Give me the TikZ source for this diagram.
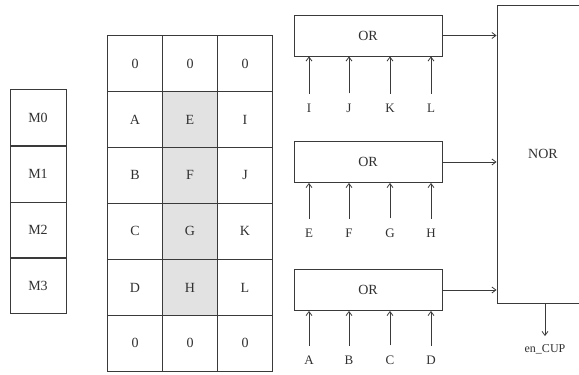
\documentclass[tikz,border=0pt]{standalone}
\usepackage{fontspec}
\setmainfont{Liberation Serif}
\usetikzlibrary{arrows.meta}
\definecolor{ln}{HTML}{3A3A3A}
\definecolor{tx}{HTML}{303030}
\definecolor{shade}{HTML}{E2E2E2}
\begin{document}
\begin{tikzpicture}[x=1pt,y=-1pt,
  every node/.style={text=tx,font=\fontsize{14}{16}\selectfont},
  mcell/.style={draw=ln,line width=0.9pt,minimum width=56pt,minimum height=56pt,inner sep=0pt},
  gcell/.style={draw=ln,line width=0.9pt,minimum width=55pt,minimum height=56pt,inner sep=0pt},
  gate/.style={draw=ln,line width=0.9pt,minimum width=148pt,minimum height=41pt,inner sep=0pt,fill=white},
  lbl/.style={inner sep=1pt,font=\fontsize{13}{15}\selectfont},
  conn/.style={draw=ln,line width=0.8pt,-{Straight Barb[length=4pt,width=6pt]}}]
\useasboundingbox (0,0) rectangle (579,375);
\clip (0,0) rectangle (579,375);
% M column
\node[mcell] (m0) at (38,117.5) {M0};
\node[mcell] (m1) at (38,174) {M1};
\node[mcell] (m2) at (38,230) {M2};
\node[mcell] (m3) at (38,285.5) {M3};
% grid
\foreach \r/\y/\a/\b/\c in {0/63.5/0/0/0,1/119.5/A/E/I,2/175/B/F/J,3/231/C/G/K,4/287.5/D/H/L,5/343/0/0/0}{
  \node[gcell] (g\r a) at (135,\y) {\a};
  \node[gcell] (g\r c) at (245,\y) {\c};
}
\foreach \r/\y/\b in {0/63.5/0,5/343/0}{
  \node[gcell] (g\r b) at (190,\y) {\b};
}
\foreach \r/\y/\b in {1/119.5/E,2/175/F,3/231/G,4/287.5/H}{
  \node[gcell,fill=shade] (g\r b) at (190,\y) {\b};
}
% OR gates
\node[gate] (or1) at (368,35.5) {OR};
\node[gate] (or2) at (368,162) {OR};
\node[gate] (or3) at (368,290) {OR};
% NOR
\node[draw=ln,line width=0.9pt,minimum width=92pt,minimum height=298pt,inner sep=0pt] (nor) at (543,154) {NOR};
% inputs
\foreach \g/\yy/\p/\q/\s/\t in {or1/108/I/J/K/L,or2/233/E/F/G/H,or3/360/A/B/C/D}{
  \node[lbl] (\g a) at (309,\yy) {\p};
  \node[lbl] (\g b) at (349,\yy) {\q};
  \node[lbl] (\g c) at (390,\yy) {\s};
  \node[lbl] (\g d) at (431,\yy) {\t};
  \foreach \k in {a,b,c,d}{
    \draw[conn] ([yshift=9pt]\g\k.north) -- (\g\k.north |- \g.south);
  }
}
% outputs to NOR
\draw[conn] (or1.east) -- (or1.east -| nor.west);
\draw[conn] (or2.east) -- (or2.east -| nor.west);
\draw[conn] (or3.east) -- (or3.east -| nor.west);
% en_CUP
\node[lbl,font=\fontsize{12}{14}\selectfont] (en) at (545,349) {en\_CUP};
\draw[conn] (nor.south -| en) -- ([yshift=7pt]en.north);
\end{tikzpicture}
\end{document}
